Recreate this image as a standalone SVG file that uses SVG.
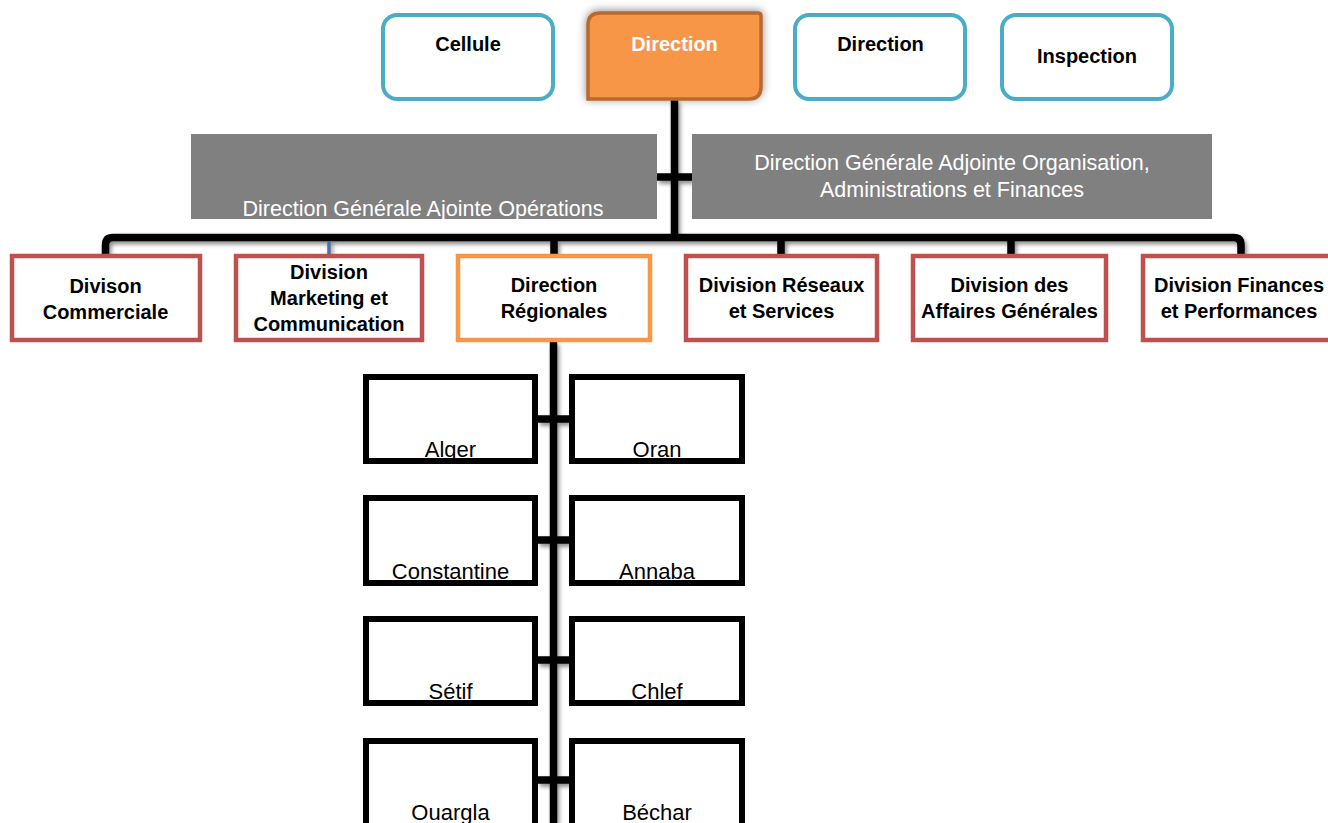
<svg xmlns="http://www.w3.org/2000/svg" width="1328" height="823" viewBox="0 0 1328 823">
<style>
.bl{font-family:"Liberation Sans",Arial,sans-serif;font-weight:bold;font-size:20px;fill:#000;text-anchor:middle}
.wt{fill:#fff}
.gt{font-family:"Liberation Sans",Arial,sans-serif;font-size:21.5px;fill:#fff;text-anchor:middle}
.rt{font-family:"Liberation Sans",Arial,sans-serif;font-size:22px;fill:#000;text-anchor:middle}
.top{fill:#fff;stroke:#4BACC6;stroke-width:4}
.red{fill:#fff;stroke:#C0504D;stroke-width:4.5}
.org{fill:#fff;stroke:#F79646;stroke-width:4.5}
.gray{fill:#808080}
.rbg{fill:#fff}
.rbd{fill:none;stroke:#000;stroke-width:6}
.ln{fill:none;stroke:#000;stroke-width:7.5}
</style>
<defs>
<filter id="sh" x="-10%" y="-10%" width="120%" height="130%">
<feDropShadow dx="2" dy="3" stdDeviation="2" flood-color="#000" flood-opacity="0.45"/>
</filter>
<filter id="osh" x="-20%" y="-30%" width="140%" height="160%">
<feDropShadow dx="0" dy="-1" stdDeviation="4" flood-color="#000" flood-opacity="0.45"/>
</filter>
</defs>
<rect width="1328" height="823" fill="#fff"/>
<g id="connectors" filter="url(#sh)">
<path class="ln" d="M674.5,100 V237.5"/>
<path class="ln" d="M657,177 H692"/>
<path class="ln" d="M105.5,254 V245 Q105.5,237.5 113,237.5 H1233.5 Q1241,237.5 1241,245 V254"/>
<path class="ln" d="M554,240 V254"/>
<path class="ln" d="M781,240 V254"/>
<path class="ln" d="M1011,240 V254"/>
<path fill="none" stroke="#4F6F9F" stroke-width="3.5" d="M329,241 V254"/>
<path class="ln" stroke-width="8" d="M553.5,342 V823"/>
<path class="ln" stroke-width="8" d="M538,419 H569"/>
<path class="ln" stroke-width="8" d="M538,540 H569"/>
<path class="ln" stroke-width="8" d="M538,660 H569"/>
<path class="ln" stroke-width="8" d="M538,780 H569"/>
</g>
<g id="cellule"><rect class="top" x="383" y="15" width="170" height="84" rx="14"/><text class="bl" x="468" y="51">Cellule</text></g>
<g id="direction-main"><path filter="url(#osh)" fill="#F79646" stroke="#B7692F" stroke-width="3.5" d="M600,13 H758 Q761,13 761,16 V87 Q761,99 749,99 H588 V25 Q588,13 600,13 Z"/><text class="bl wt" x="674.5" y="51">Direction</text></g>
<g id="direction2"><rect class="top" x="795" y="15" width="170" height="84" rx="14"/><text class="bl" x="880.5" y="51">Direction</text></g>
<g id="inspection"><rect class="top" x="1002" y="15" width="170" height="84" rx="14"/><text class="bl" x="1087" y="63">Inspection</text></g>
<g id="dga-operations"><rect class="gray" x="191" y="134" width="466" height="85"/><text class="gt" x="423" y="216">Direction Générale Ajointe Opérations</text></g>
<g id="dga-organisation"><rect class="gray" x="692" y="134" width="520" height="85"/><text class="gt" x="952" y="170">Direction Générale Adjointe Organisation,</text><text class="gt" x="952" y="197">Administrations et Finances</text></g>
<g id="div-commerciale"><rect class="red" x="12" y="256" width="188" height="84"/><text class="bl" x="105.5" y="293">Divison</text><text class="bl" x="105.5" y="319">Commerciale</text></g>
<g id="div-marketing"><rect class="red" x="236" y="256" width="186" height="84"/><text class="bl" x="329" y="279">Division</text><text class="bl" x="329" y="305">Marketing et</text><text class="bl" x="329" y="331">Communication</text></g>
<g id="dir-regionales"><rect class="org" x="458" y="256" width="192" height="84"/><text class="bl" x="554" y="292">Direction</text><text class="bl" x="554" y="318">Régionales</text></g>
<g id="div-reseaux"><rect class="red" x="686" y="256" width="191" height="84"/><text class="bl" x="781.5" y="292">Division Réseaux</text><text class="bl" x="781.5" y="318">et Services</text></g>
<g id="div-affaires"><rect class="red" x="913" y="256" width="193" height="84"/><text class="bl" x="1009.5" y="292">Division des</text><text class="bl" x="1009.5" y="318">Affaires Générales</text></g>
<g id="div-finances"><rect class="red" x="1143" y="256" width="192" height="84"/><text class="bl" x="1239" y="292">Division Finances</text><text class="bl" x="1239" y="318">et Performances</text></g>
<g id="alger"><rect class="rbg" x="366" y="377" width="169" height="84"/><text class="rt" x="450.5" y="457">Alger</text><rect class="rbd" x="366" y="377" width="169" height="84"/></g>
<g id="oran"><rect class="rbg" x="572" y="377" width="170" height="84"/><text class="rt" x="657" y="457">Oran</text><rect class="rbd" x="572" y="377" width="170" height="84"/></g>
<g id="constantine"><rect class="rbg" x="366" y="498" width="169" height="85"/><text class="rt" x="450.5" y="579">Constantine</text><rect class="rbd" x="366" y="498" width="169" height="85"/></g>
<g id="annaba"><rect class="rbg" x="572" y="498" width="170" height="85"/><text class="rt" x="657" y="579">Annaba</text><rect class="rbd" x="572" y="498" width="170" height="85"/></g>
<g id="setif"><rect class="rbg" x="366" y="619" width="169" height="84"/><text class="rt" x="450.5" y="699">Sétif</text><rect class="rbd" x="366" y="619" width="169" height="84"/></g>
<g id="chlef"><rect class="rbg" x="572" y="619" width="170" height="84"/><text class="rt" x="657" y="699">Chlef</text><rect class="rbd" x="572" y="619" width="170" height="84"/></g>
<g id="ouargla"><rect class="rbg" x="366" y="741" width="169" height="100"/><text class="rt" x="450.5" y="820">Ouargla</text><rect class="rbd" x="366" y="741" width="169" height="100"/></g>
<g id="bechar"><rect class="rbg" x="572" y="741" width="170" height="100"/><text class="rt" x="657" y="820">Béchar</text><rect class="rbd" x="572" y="741" width="170" height="100"/></g>
</svg>
